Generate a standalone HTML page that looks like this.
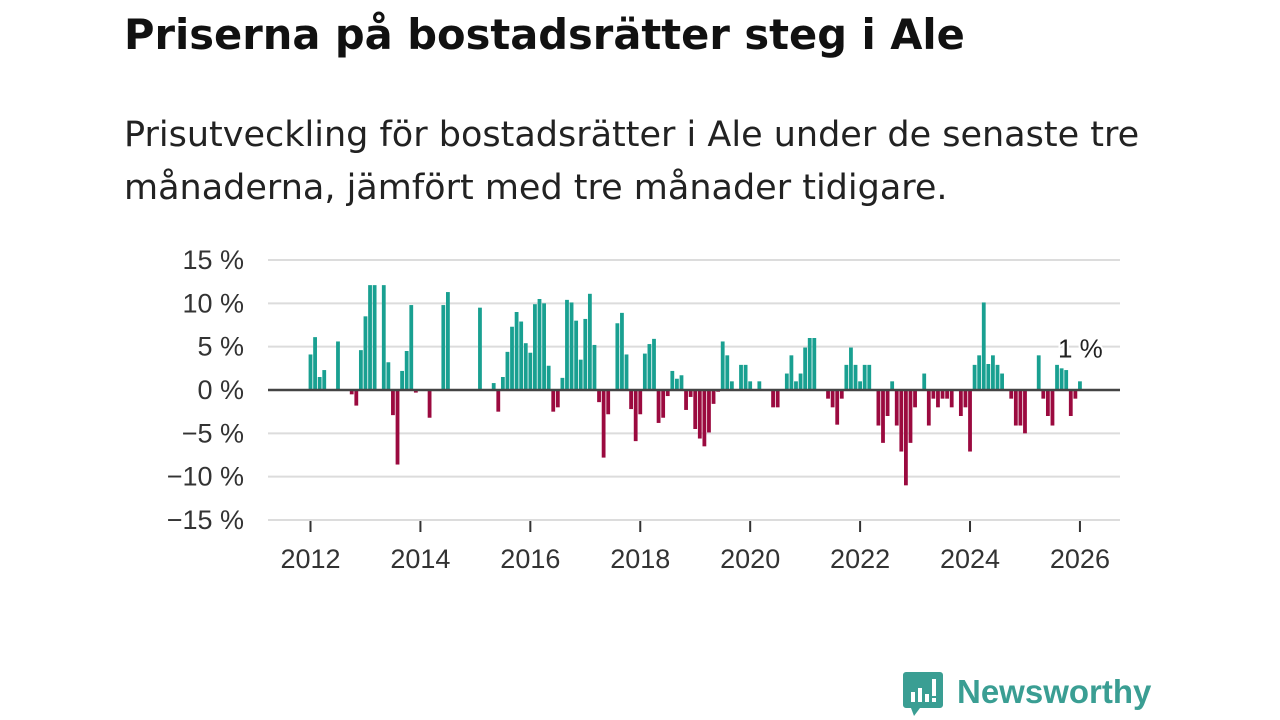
<!DOCTYPE html>
<html><head><meta charset="utf-8">
<style>
body{margin:0;background:#fff;width:1280px;height:720px;overflow:hidden;font-family:"Liberation Sans",sans-serif;}
#title{position:absolute;left:124px;top:10px;font-size:41.6px;font-family:"DejaVu Sans",sans-serif;font-weight:bold;color:#111;margin:0;letter-spacing:0px}
#sub{position:absolute;left:124px;top:109px;font-size:35px;font-family:"DejaVu Sans",sans-serif;line-height:53px;color:#222;margin:0;white-space:nowrap}
svg{position:absolute;left:0;top:0}
</style></head><body>
<h1 id="title">Priserna på bostadsrätter steg i Ale</h1>
<p id="sub">Prisutveckling för bostadsrätter i Ale under de senaste tre<br>månaderna, jämfört med tre månader tidigare.</p>
<svg id="chart" width="1280" height="720"></svg>
<script>
const startYear = 2012;
const values = [4.1,6.1,1.5,2.3,0,0,5.6,0,0,-0.5,-1.8,4.6,
8.5,12.1,12.1,0,12.1,3.2,-2.9,-8.6,2.2,4.5,9.8,-0.3,
0,0,-3.2,0,0,9.8,11.3,0,0,0,0,0,
0,9.5,0,0,0.8,-2.5,1.5,4.4,7.3,9.0,7.9,5.4,
4.3,9.9,10.5,10.0,2.8,-2.5,-2.0,1.4,10.4,10.1,8.0,3.5,
8.2,11.1,5.2,-1.4,-7.8,-2.8,0,7.7,8.9,4.1,-2.2,-5.9,
-2.8,4.2,5.3,5.9,-3.8,-3.2,-0.7,2.2,1.3,1.7,-2.3,-0.8,
-4.5,-5.6,-6.5,-4.9,-1.6,-0.2,5.6,4.0,1.0,0,2.9,2.9,
1.0,0,1.0,0,0,-2.0,-2.0,0,1.9,4.0,1.0,1.9,
4.9,6.0,6.0,0,0,-1.0,-2.0,-4.0,-1.0,2.9,4.9,2.9,
1.0,2.9,2.9,0,-4.1,-6.1,-3.0,1.0,-4.1,-7.1,-11.0,-6.1,
-2.0,0,1.9,-4.1,-1.0,-2.0,-1.0,-1.0,-2.0,0,-3.0,-2.0,
-7.1,2.9,4.0,10.1,3.0,4.0,2.9,1.9,0,-1.0,-4.1,-4.1,
-5.0,0,0,4.0,-1.0,-3.0,-4.1,2.9,2.5,2.3,-3.0,-1.0,
1.0];
const yTicks = [15,10,5,0,-5,-10,-15];
const xTicks = [2012,2014,2016,2018,2020,2022,2024,2026];
const lastLabel = "1 %";

const NS="http://www.w3.org/2000/svg";
const svg=document.getElementById('chart');
const x0=268,x1=1120;
function yS(v){return 390 - v*(130/15);}
function xYear(yr){return 310.5 + (yr-startYear)*12*4.58;}
function xM(m){return 310.5 + m*4.58;}
function mk(tag,attrs){const e=document.createElementNS(NS,tag);for(const k in attrs)e.setAttribute(k,attrs[k]);svg.appendChild(e);return e;}
const fmt=v=>(v<0?'\u2212'+(-v):''+v)+' %';
yTicks.forEach(t=>{
  const g=mk('line',{x1:x0,x2:x1,y1:yS(t),y2:yS(t),stroke:'#dcdcdc','stroke-width':2});
  
  
  const tx=mk('text',{x:244,y:yS(t)+9,'text-anchor':'end','font-size':27,fill:'#333','font-family':'Liberation Sans, sans-serif'});
  tx.textContent=fmt(t);
  
  
});
xTicks.forEach(yr=>{
  const x=xYear(yr);
  const l=mk('line',{x1:x,x2:x,y1:521,y2:532,stroke:'#333','stroke-width':2});
  
  
  const tx=mk('text',{x:x,y:568,'text-anchor':'middle','font-size':27,fill:'#333','font-family':'Liberation Sans, sans-serif'});
  tx.textContent=yr;
  
  
});
values.forEach((v,i)=>{
  if(v===0)return;
  const x=xM(i)-1.9;
  const y=v>0?yS(v):yS(0);
  const h=Math.abs(yS(v)-yS(0));
  const r=mk('rect',{x:x,y:y,width:3.8,height:h,fill:v>0?'#19a091':'#9b0a3f'});
  
  
});
const z=mk('line',{x1:x0,x2:x1,y1:yS(0),y2:yS(0),stroke:'#444','stroke-width':2.5});


const li=values.length-1;
const lb=mk('text',{x:xM(li)-22,y:yS(values[li])-24,'font-size':26,fill:'#222','font-family':'Liberation Sans, sans-serif',stroke:'#fff','stroke-width':4,'paint-order':'stroke'});
lb.textContent=lastLabel;


</script>
<svg width="1280" height="720" style="pointer-events:none">
<path d="M906 672 h34 a3 3 0 0 1 3 3 v30 a3 3 0 0 1 -3 3 h-20 l-6 8 l-3 -8 h-5 a3 3 0 0 1 -3 -3 v-30 a3 3 0 0 1 3 -3z" fill="#3a9e93"/>
<rect x="911" y="692" width="4" height="10" fill="#fff"/><rect x="918" y="688" width="4" height="14" fill="#fff"/><rect x="925" y="694" width="4" height="8" fill="#fff"/><rect x="932" y="679" width="4" height="17" fill="#fff"/><rect x="932" y="698" width="4" height="4" fill="#fff"/>
<text x="957" y="703" font-size="33" font-weight="bold" fill="#3a9e93" font-family="Liberation Sans, sans-serif">Newsworthy</text>
</svg>
</body></html>
